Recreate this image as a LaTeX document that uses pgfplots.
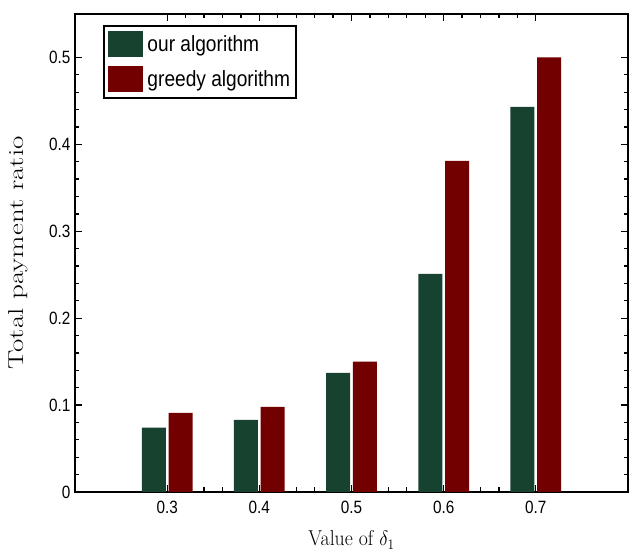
\documentclass[border=0pt]{standalone}
\usepackage{pgfplots}
\pgfplotsset{compat=1.18}
\usepackage{graphicx}
\usepackage{fontspec}
\newfontfamily\ticksf[FakeStretch=0.86]{Liberation Sans}
\newfontfamily\legsf[FakeStretch=0.87]{Liberation Sans}
\definecolor{ourgreen}{RGB}{23,66,48}
\definecolor{greedyred}{RGB}{115,0,0}
\begin{document}
\begin{tikzpicture}
\begin{axis}[
    width=553pt, height=478pt,
    scale only axis,
    ybar,
    bar width=0.026,
    xmin=0.2, xmax=0.8,
    ymin=0, ymax=0.55,
    xtick={0.3,0.4,0.5,0.6,0.7},
    ytick={0,0.1,0.2,0.3,0.4,0.5},
    minor x tick num=4,
    minor y tick num=4,
    tick align=inside,
    major tick length=7pt,
    minor tick length=4.5pt,
    tick style={black, line width=1.3pt},
    axis line style={line width=2.2pt},
    ticklabel style={font=\ticksf\fontsize{17.8}{19}\selectfont},
    /pgf/number format/assume math mode=true,
    /pgf/number format/fixed,
    xticklabel style={yshift=-6pt},
    yticklabel style={xshift=-1pt},
    xlabel={\scalebox{0.92}[1]{Value of $\delta_1$}},
    ylabel={\scalebox{1.35}[1]{Total payment ratio}},
    label style={font=\fontsize{21.5}{24}\selectfont},
    xlabel style={at={(axis description cs:0.5,-48/478)}, anchor=center},
    ylabel style={at={(axis description cs:-57/553,0.5)}, anchor=center},
    legend style={
        at={(28/553,1-11/478)}, anchor=north west,
        font=\legsf\fontsize{22}{24}\selectfont,
        draw=black, line width=2pt,
        inner xsep=4pt, inner ysep=5.5pt,
        row sep=9pt,
        nodes={inner sep=1.5pt},
        cells={anchor=west},
    },
    legend image code/.code={
        \fill[#1, draw=none] (0pt,-13pt) rectangle (35pt,13pt);
    },
]
\addplot[fill=ourgreen, draw=none, bar shift=-0.0145] coordinates {
(0.3,0.074) (0.4,0.083) (0.5,0.137) (0.6,0.251) (0.7,0.443)
};
\addplot[fill=greedyred, draw=none, bar shift=0.0145] coordinates {
(0.3,0.091) (0.4,0.098) (0.5,0.150) (0.6,0.381) (0.7,0.500)
};
\legend{\hspace{3pt}our algorithm, \hspace{3pt}greedy algorithm}
\end{axis}
\path ([xshift=-75pt,yshift=-59pt]current axis.south west) rectangle ([xshift=2pt,yshift=14pt]current axis.north east);
\end{tikzpicture}
\end{document}
